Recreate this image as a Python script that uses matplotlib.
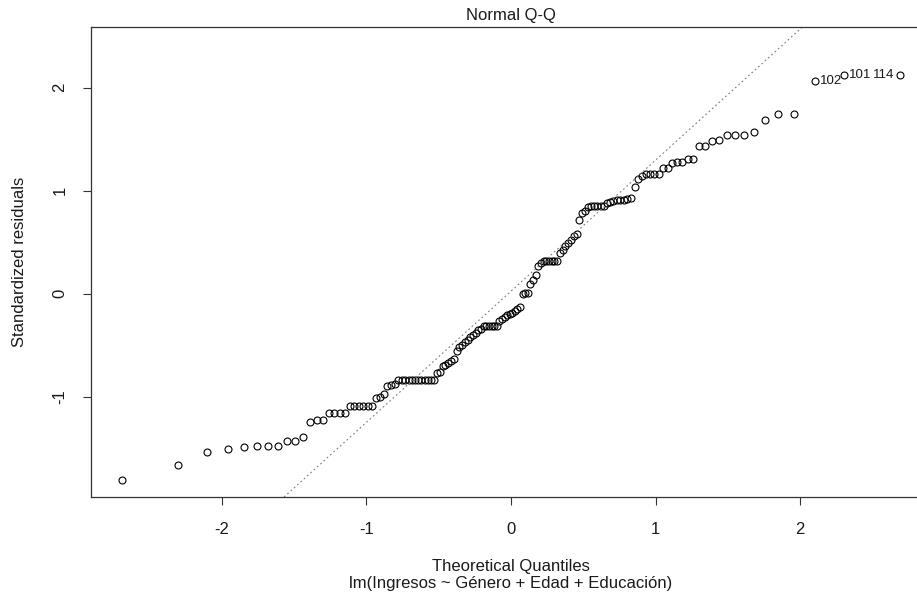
import matplotlib
matplotlib.use("Agg")
import matplotlib.pyplot as plt
import numpy as np
from statistics import NormalDist

plt.rcParams['font.family'] = ['Liberation Sans', 'DejaVu Sans']

# Sorted standardized residuals
std_resid = [
    -1.806, -1.667, -1.541, -1.505, -1.485, -1.476, -1.476, -1.476, -1.427, -1.427,
    -1.388, -1.246, -1.227, -1.227, -1.162, -1.162, -1.162, -1.162, -1.090, -1.090,
    -1.090, -1.090, -1.090, -1.090, -1.013, -1.003, -0.971, -0.893, -0.890, -0.880,
    -0.835, -0.835, -0.835, -0.835, -0.835, -0.835, -0.835, -0.835, -0.835, -0.835,
    -0.835, -0.835, -0.770, -0.760, -0.706, -0.695, -0.673, -0.650, -0.630, -0.560,
    -0.520, -0.495, -0.473, -0.447, -0.420, -0.400, -0.380, -0.356, -0.343, -0.310,
    -0.310, -0.310, -0.310, -0.310, -0.310, -0.270, -0.245, -0.226, -0.205, -0.195,
    -0.185, -0.172, -0.150, -0.130, 0.000, 0.005, 0.005, 0.094, 0.136, 0.178,
    0.265, 0.298, 0.314, 0.314, 0.314, 0.314, 0.314, 0.314, 0.395, 0.427,
    0.459, 0.492, 0.524, 0.560, 0.580, 0.718, 0.780, 0.806, 0.838, 0.848,
    0.848, 0.848, 0.848, 0.848, 0.880, 0.890, 0.900, 0.906, 0.913, 0.913,
    0.920, 0.929, 1.036, 1.114, 1.139, 1.165, 1.165, 1.165, 1.165, 1.220,
    1.220, 1.270, 1.275, 1.275, 1.310, 1.310, 1.430, 1.430, 1.480, 1.495,
    1.537, 1.537, 1.537, 1.573, 1.689, 1.744, 1.744, 2.061, 2.126, 2.126,
]
# Observation ids of the three most extreme residuals (ranks 138, 139, 140)
label_ranks = [138, 139, 140]
label_ids = ["102", "101", "114"]

title = "Normal Q-Q"
xlabel = "Theoretical Quantiles"
ylabel = "Standardized residuals"
subcaption = "lm(Ingresos ~ Género + Edad + Educación)"
xticks = [-2, -1, 0, 1, 2]
yticks = [-1, 0, 1, 2]

# --- theoretical quantiles (as qqnorm / ppoints) ---
y = np.array(std_resid)
n = len(y)
nd = NormalDist()
x = np.array([nd.inv_cdf((i - 0.5) / n) for i in range(1, n + 1)])

W, H = 917, 596
fig = plt.figure(figsize=(W / 100, H / 100), dpi=100)
# axes box: left 91px, top 27px, bottom 497px, right edge beyond the image (931px)
ax = fig.add_axes([91 / W, (H - 497) / H, 840 / W, 470 / H])

ax.plot(x, y, linestyle='none', marker='o', markersize=5.0,
        markerfacecolor='none', markeredgecolor='black', markeredgewidth=0.8,
        clip_on=False)

# qqline through quartiles
q1, q3 = np.percentile(y, [25, 75])
z1, z3 = nd.inv_cdf(0.25), nd.inv_cdf(0.75)
slope = (q3 - q1) / (z3 - z1)
intercept = q1 - slope * z1
ax.axline((0, intercept), slope=slope, color='#808080', lw=0.8,
          linestyle=(0, (1.6, 2.4)))

# labels of extreme points
xr = [x[r - 1] for r in label_ranks]
mid = (min(xr) + max(xr)) / 2
for r, lab in zip(label_ranks, label_ids):
    px, py = x[r - 1], y[r - 1]
    if px > mid:
        ax.annotate(lab, (px, py), xytext=(-3.8, 0), textcoords='offset points',
                    ha='right', va='center', fontsize=9.5, color='#1a1a1a')
    else:
        ax.annotate(lab, (px, py), xytext=(4.0, 0), textcoords='offset points',
                    ha='left', va='center', fontsize=9.5, color='#1a1a1a')

# limits like R (plot.lm adds 7.5% on top, then 4% expansion)
xr0 = [x.min(), x.max()]
dx = xr0[1] - xr0[0]
ax.set_xlim(xr0[0] - 0.04 * dx, xr0[1] + 0.04 * dx)
ylo, yhi = y.min(), y.max()
yhi = yhi + 0.075 * (yhi - ylo)
dy = yhi - ylo
ax.set_ylim(ylo - 0.04 * dy, yhi + 0.04 * dy)

ax.set_xticks(xticks)
ax.set_yticks(yticks)
ax.set_xticklabels([str(t) for t in xticks])
ax.set_yticklabels([str(t) for t in yticks], rotation=90, va='center')
ax.tick_params(axis='both', direction='out', length=6, width=0.8,
               color='#333333', labelsize=12, labelcolor='#1a1a1a')
ax.tick_params(axis='x', pad=12)
ax.tick_params(axis='y', pad=11)
for s in ax.spines.values():
    s.set_color('#333333')
    s.set_linewidth(0.9)

ax.set_title(title, fontsize=12, pad=5, color='#1a1a1a')
fig.text(511 / W, (H - 571) / H, xlabel, ha='center', va='baseline',
         fontsize=12, color='#1a1a1a')
fig.text(511 / W, (H - 588) / H, subcaption, ha='center', va='baseline',
         fontsize=12, color='#1a1a1a')
fig.text(20 / W, (H - 262) / H, ylabel, rotation=90, ha='center', va='center',
         fontsize=12, color='#1a1a1a')

fig.savefig("out.png", dpi=100)
